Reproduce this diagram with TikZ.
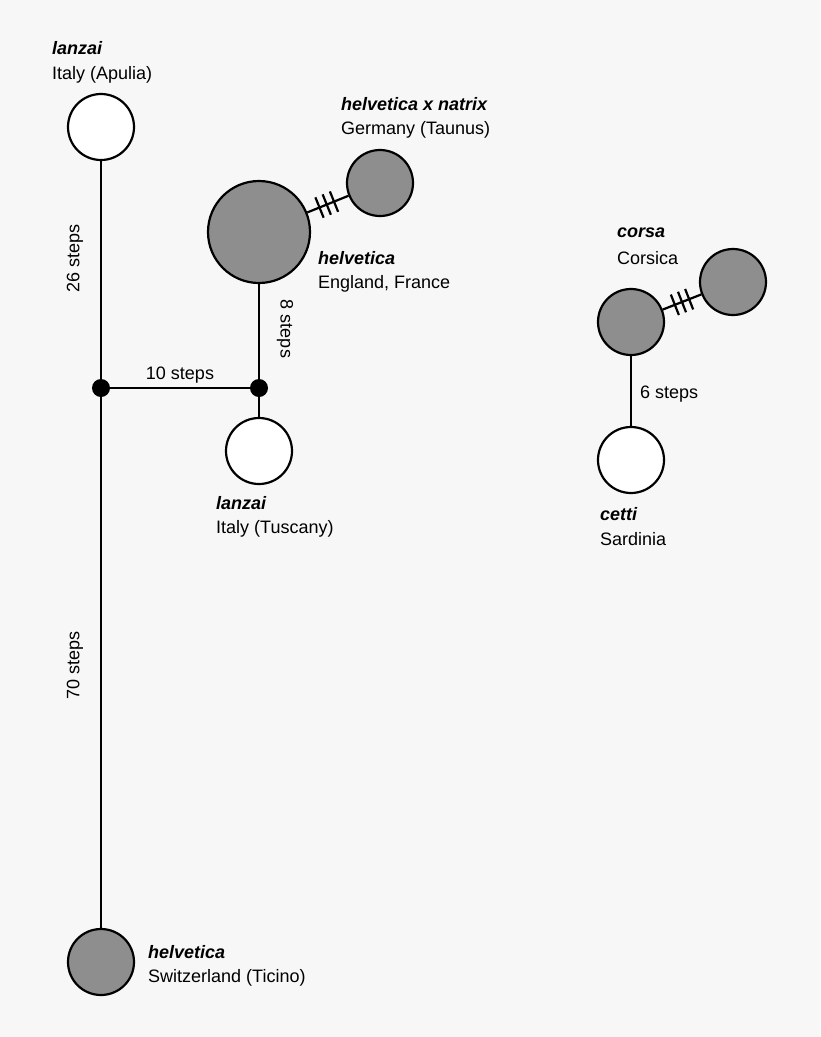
\documentclass[tikz,border=0pt]{standalone}
\usepackage{fontspec}
\setmainfont{Liberation Sans}
\usetikzlibrary{calc}
\definecolor{bg}{HTML}{F7F7F7}
\definecolor{hap}{HTML}{8E8E8E}
\begin{document}
\begin{tikzpicture}[x=1pt,y=-1pt,
  wh/.style={circle,draw,line width=2.2pt,fill=white,minimum size=66pt,inner sep=0},
  gr/.style={circle,draw,line width=2.2pt,fill=hap,minimum size=66pt,inner sep=0},
  big/.style={gr,minimum size=102pt},
  dot/.style={circle,fill=black,minimum size=18pt,inner sep=0},
  lk/.style={line width=2.2pt},
  lab/.style={anchor=west,font=\fontsize{18}{20}\selectfont,inner sep=0},
  sp/.style={lab,font=\bfseries\itshape\fontsize{18}{20}\selectfont},
  st/.style={font=\fontsize{18}{20}\selectfont,inner sep=0}]
\fill[bg] (0,0) rectangle (820,1037);
\useasboundingbox (0,0) rectangle (820,1037);
\node[wh] (lA) at (101,127) {};
\node[gr] (hT) at (101,962) {};
\node[dot] (j1) at (101,388) {};
\node[dot] (j2) at (259,388) {};
\node[big] (hE) at (259,232) {};
\node[gr] (hN) at (380,183) {};
\node[wh] (lT) at (259,451) {};
\node[gr] (co) at (631,322) {};
\node[gr] (co2) at (733,282) {};
\node[wh] (ce) at (631,460) {};
\draw[lk] (lA) -- (j1) -- (hT);
\draw[lk] (j1) -- (j2);
\draw[lk] (hE) -- (j2) -- (lT);
\draw[lk] (hE) -- (hN);
\draw[lk] (co) -- (co2);
\draw[lk] (co) -- (ce);
\foreach \t in {0.5,0.56,0.62}
  \draw[lk] ($ ($(hE)!\t!(hN)$)!11pt!90:(hN) $) -- ($ ($(hE)!\t!(hN)$)!11pt!-90:(hN) $);
\foreach \t in {0.43,0.5,0.57}
  \draw[lk] ($ ($(co)!\t!(co2)$)!11pt!90:(co2) $) -- ($ ($(co)!\t!(co2)$)!11pt!-90:(co2) $);
\node[st] (s10) at (180,375) {10 steps};
\node[st,rotate=90] (s26) at (75,258) {26 steps};
\node[st,rotate=90] (s70) at (75,665) {70 steps};
\node[st,rotate=-90] (s8) at (285,329) {8 steps};
\node[st,anchor=west] (s6) at (640,394) {6 steps};
\node[sp] (t1) at (52,48) {lanzai};
\node[lab] (t2) at (52,75) {Italy (Apulia)};
\node[sp] (t3) at (341,104) {helvetica x natrix};
\node[lab] (t4) at (341,130) {Germany (Taunus)};
\node[sp] (t5) at (318,258) {helvetica};
\node[lab] (t6) at (318,284) {England, France};
\node[sp] (t7) at (216,503) {lanzai};
\node[lab] (t8) at (216,529) {Italy (Tuscany)};
\node[sp] (t9) at (617,233) {corsa};
\node[lab] (t10) at (617,258) {Corsica};
\node[sp] (t11) at (600,514) {cetti};
\node[lab] (t12) at (600,539) {Sardinia};
\node[sp] (t13) at (148,952) {helvetica};
\node[lab] (t14) at (148,978) {Switzerland (Ticino)};
\end{tikzpicture}
\end{document}
